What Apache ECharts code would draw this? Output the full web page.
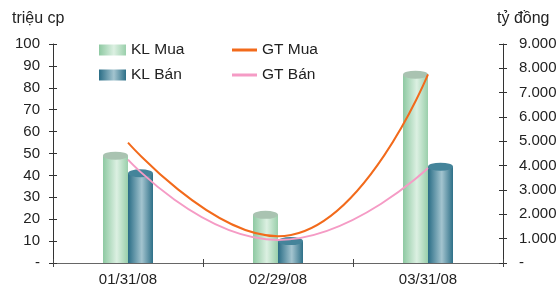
<!DOCTYPE html>
<html>
<head>
<meta charset="utf-8">
<script src="https://cdn.jsdelivr.net/npm/echarts@6/dist/echarts.min.js"></script>
<style>
  html, body { margin: 0; padding: 0; background: #fff; }
  #chart { width: 560px; height: 289px; }
</style>
</head>
<body>
<div id="chart"></div>
<script>
  const categories = ['01/31/08', '02/29/08', '03/31/08'];
  const klMua = [49, 22, 86];
  const klBan = [41, 10, 44];
  const gtMua = [4950, 1100, 7750];
  const gtBan = [4250, 950, 3900];

  const font = 'Liberation Sans, Arial, sans-serif';
  const textColor = '#222';

  function grad(edge, mid, edge2) {
    return new echarts.graphic.LinearGradient(0, 0, 1, 0, [
      { offset: 0, color: edge },
      { offset: 0.55, color: mid },
      { offset: 1, color: edge2 },
    ]);
  }

  const muaFill = grad('#8ec9a2', '#dcf0e2', '#9acfab');
  const banFill = grad('#2a6d86', '#a3c4cf', '#2e7088');

  const chart = echarts.init(document.getElementById('chart'));

  chart.setOption({
    animation: false,
    textStyle: { fontFamily: font },
    grid: { left: 53, right: 57, top: 44, bottom: 26, outerBoundsMode: 'none' },
    legend: [
      {
        left: 99, top: 42, padding: 0, orient: 'vertical', itemWidth: 27, itemHeight: 11, itemGap: 9,
        textStyle: { fontSize: 15.5, color: textColor, fontFamily: font },
        data: [{ name: 'KL Mua', icon: 'rect' }, { name: 'KL Bán', icon: 'rect' }],
      },
      {
        left: 232, top: 42, padding: 0, orient: 'vertical', itemWidth: 25, itemHeight: 3, itemGap: 9,
        textStyle: { fontSize: 15.5, color: textColor, fontFamily: font },
        data: [{ name: 'GT Mua', icon: 'rect' }, { name: 'GT Bán', icon: 'rect' }],
      },
    ],
    graphic: [
      { type: 'text', left: 12, top: 11, style: { text: 'triệu cp', fontSize: 16, fill: textColor, fontFamily: font } },
      { type: 'text', left: 497, top: 11, style: { text: 'tỷ đồng', fontSize: 16, fill: textColor, fontFamily: font } },
    ],
    xAxis: [
      {
        type: 'category',
        data: categories,
        axisLine: { lineStyle: { color: '#666', width: 1 } },
        axisTick: { show: true, length: 4, lineStyle: { color: '#444' } },
        axisLabel: { fontSize: 15, color: textColor, margin: 9 },
      },
      {
        type: 'category',
        data: categories,
        position: 'bottom',
        axisLine: { show: false },
        axisTick: { show: true, inside: true, length: 4, lineStyle: { color: '#444' } },
        axisLabel: { show: false },
      },
    ],
    yAxis: [
      {
        type: 'value', min: 0, max: 100, interval: 10,
        axisLine: { show: true, lineStyle: { color: '#333' } },
        axisTick: { show: true, length: 4, lineStyle: { color: '#333' } },
        splitLine: { show: false },
        axisLabel: {
          fontSize: 15, color: textColor, margin: 13,
          formatter: v => (v === 0 ? '-' : String(v)),
        },
      },
      {
        type: 'value', min: 0, max: 9000, interval: 1000, position: 'right',
        axisLine: { show: true, lineStyle: { color: '#333' } },
        axisTick: { show: true, length: 4, lineStyle: { color: '#333' } },
        splitLine: { show: false },
        axisLabel: {
          fontSize: 15, color: textColor, margin: 16,
          formatter: v => (v === 0 ? '-' : (v / 1000) + '.000'),
        },
      },
      {
        type: 'value', min: 0, max: 100, interval: 10, position: 'left',
        axisLine: { show: false },
        axisTick: { show: true, inside: true, length: 4, lineStyle: { color: '#333' } },
        splitLine: { show: false },
        axisLabel: { show: false },
      },
      {
        type: 'value', min: 0, max: 9000, interval: 1000, position: 'right',
        axisLine: { show: false },
        axisTick: { show: true, inside: true, length: 4, lineStyle: { color: '#333' } },
        splitLine: { show: false },
        axisLabel: { show: false },
      },
    ],
    series: [
      {
        name: 'KL Mua', type: 'bar', barWidth: 25, barGap: '0%',
        itemStyle: { color: muaFill },
        data: klMua,
      },
      {
        name: 'KL Bán', type: 'bar', barWidth: 25, barGap: '0%',
        itemStyle: { color: banFill },
        data: klBan,
      },
      {
        name: 'KL Mua', type: 'pictorialBar', barWidth: 25, barGap: '0%',
        symbol: 'circle', symbolSize: [25, 8], symbolPosition: 'end', symbolOffset: [0, '-50%'], z: 3,
        itemStyle: { color: '#a9c3b1' }, legendHoverLink: false,
        data: klMua,
      },
      {
        name: 'KL Bán', type: 'pictorialBar', barWidth: 25, barGap: '0%',
        symbol: 'circle', symbolSize: [25, 8], symbolPosition: 'end', symbolOffset: [0, '-50%'], z: 3,
        itemStyle: { color: '#44849a' }, legendHoverLink: false,
        data: klBan,
      },
      {
        name: 'GT Mua', type: 'line', yAxisIndex: 1, smooth: true, symbol: 'none', z: 5,
        lineStyle: { color: '#f26a1b', width: 2 }, itemStyle: { color: '#f26a1b' },
        data: gtMua,
      },
      {
        name: 'GT Bán', type: 'line', yAxisIndex: 1, smooth: true, symbol: 'none', z: 5,
        lineStyle: { color: '#f59bc5', width: 2 }, itemStyle: { color: '#f59bc5' },
        data: gtBan,
      },
    ],
  });
</script>
</body>
</html>
